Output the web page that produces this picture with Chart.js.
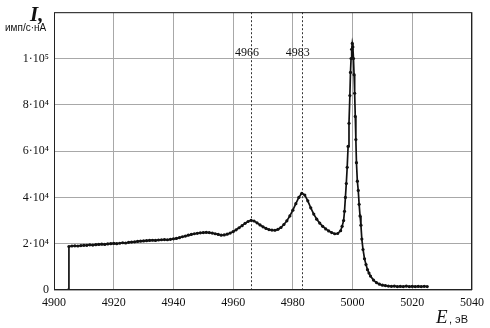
<!DOCTYPE html>
<html>
<head>
<meta charset="utf-8">
<script src="https://cdn.jsdelivr.net/npm/chart.js@4/dist/chart.umd.min.js"></script>
<style>
  html, body { margin: 0; padding: 0; background: #fff; }
  #wrap { width: 490px; height: 328px; position: relative; }
</style>
</head>
<body>
<div id="wrap"><canvas id="spectrum"></canvas></div>
<script>
// photon energy, eV
const energy = [
  4904.7, 4905, 4906, 4907, 4908, 4909, 4910, 4911, 4912, 4913, 4914, 4915, 4916, 4917, 4918, 4919,
  4920, 4921, 4922, 4923, 4924, 4925, 4926, 4927, 4928, 4929, 4930, 4931, 4932, 4933, 4934, 4935,
  4936, 4937, 4938, 4939, 4940, 4941, 4942, 4943, 4944, 4945, 4946, 4947, 4948, 4949, 4950, 4951,
  4952, 4953, 4954, 4955, 4956, 4957, 4958, 4959, 4960, 4961, 4962, 4963, 4964, 4965, 4966, 4967,
  4968, 4969, 4970, 4971, 4972, 4973, 4974, 4975, 4976, 4977, 4978, 4979, 4980, 4981, 4982, 4983,
  4984, 4985, 4986, 4987, 4988, 4989, 4990, 4991, 4992, 4993, 4994, 4995, 4996, 4996.5, 4997, 4997.3,
  4997.6, 4997.9, 4998.2, 4998.5, 4998.8, 4999.1, 4999.3, 4999.5, 4999.7, 4999.9, 5000.1, 5000.3,
  5000.5, 5000.7, 5000.9, 5001.1, 5001.3, 5001.6, 5001.9, 5002.2, 5002.5, 5002.8, 5003.1, 5003.5,
  5004, 5004.5, 5005, 5005.5, 5006, 5007, 5008, 5009, 5010, 5011, 5012, 5013, 5014, 5015, 5016,
  5017, 5018, 5019, 5020, 5021, 5022, 5023, 5024, 5025
];

// intensity, counts/s per nA
const intensity = [
  0, 18800, 19000, 19100, 19000, 19200, 19300, 19300, 19500, 19400, 19600, 19700, 19800, 19700, 19900, 20000,
  20100, 20000, 20200, 20400, 20300, 20600, 20700, 20800, 21000, 21100, 21200, 21300, 21400, 21500, 21400, 21600,
  21700, 21800, 21700, 21900, 22100, 22300, 22600, 23000, 23300, 23700, 24000, 24300, 24500, 24700, 24800, 24900,
  24800, 24600, 24300, 24000, 23700, 23800, 24100, 24600, 25200, 26000, 26900, 27800, 28800, 29600, 30100, 29800,
  29000, 28100, 27300, 26600, 26100, 25900, 25800, 26200, 27000, 28300, 29900, 32000, 34500, 37300, 40000, 41800,
  41000, 38500, 35500, 32800, 30600, 28900, 27500, 26400, 25500, 24800, 24300, 24400, 25600, 27500, 30000, 34000,
  40000, 46000, 53000, 62000, 72000, 84000, 94000, 100000, 104000, 106500, 105000, 100000,
  93000, 85000, 75000, 65000, 55000, 47000, 43000, 37000, 32000, 28000, 22000, 17500,
  13500, 11000, 8800, 7300, 6000, 4300, 3200, 2500, 2100, 1900, 1700, 1600, 1700, 1500, 1600,
  1500, 1700, 1500, 1600, 1500, 1600, 1500, 1600, 1500
];

// marked peak positions, eV
const markers = [4966, 4983];

const xTicks = [4900, 4920, 4940, 4960, 4980, 5000, 5020, 5040];
const yTicks = [0, 20000, 40000, 60000, 80000, 100000, 120000];

const SERIF = '"Liberation Serif", "DejaVu Serif", serif';
const SANS = '"Liberation Sans", Arial, sans-serif';
const SUP = { '4': '\u2074', '5': '\u2075' };

function sciLabel(v) {
  if (v === 0) return '0';
  if (v >= 120000) return '';
  const exp = Math.floor(Math.log10(v));
  const m = Math.round(v / Math.pow(10, exp));
  return `${m}\u00b710${SUP[String(exp)]}`;
}

const overlay = {
  id: 'overlay',
  beforeDatasetsDraw(chart) {
    const { ctx, chartArea, scales } = chart;
    ctx.save();
    ctx.strokeStyle = '#333';
    ctx.lineWidth = 1;
    ctx.setLineDash([2, 2]);
    markers.forEach((m) => {
      const x = Math.round(scales.x.getPixelForValue(m)) + 0.5;
      ctx.beginPath();
      ctx.moveTo(x, chartArea.top);
      ctx.lineTo(x, chartArea.bottom);
      ctx.stroke();
    });
    ctx.setLineDash([]);
    ctx.fillStyle = '#111';
    ctx.font = `12px ${SERIF}`;
    ctx.textAlign = 'center';
    ctx.textBaseline = 'middle';
    markers.forEach((m) => {
      const x = scales.x.getPixelForValue(m);
      ctx.fillText(String(m), x - 4, 53);
    });
    ctx.restore();
  },
  afterDraw(chart) {
    const { ctx, chartArea } = chart;
    ctx.save();
    ctx.strokeStyle = '#222';
    ctx.lineWidth = 1;
    ctx.strokeRect(chartArea.left + 0.5, chartArea.top + 0.5,
      chartArea.right - chartArea.left - 1, chartArea.bottom - chartArea.top - 1);

    ctx.fillStyle = '#111';
    ctx.textBaseline = 'alphabetic';
    ctx.textAlign = 'left';
    ctx.font = `italic bold 21px ${SERIF}`;
    ctx.fillText('I,', 30, 21);
    ctx.font = `10px ${SANS}`;
    ctx.fillText('имп/с·нА', 5, 31);

    ctx.font = `italic 19px ${SERIF}`;
    ctx.fillText('E', 436, 323);
    ctx.font = `11px ${SANS}`;
    ctx.fillText(', эВ', 449, 323);
    ctx.restore();
  }
};

const ctx = document.getElementById('spectrum').getContext('2d');

new Chart(ctx, {
  type: 'scatter',
  data: {
    datasets: [
      {
        data: energy.map((e, i) => ({ x: e, y: intensity[i] })),
        showLine: true,
        borderColor: '#111',
        backgroundColor: '#111',
        borderWidth: 1.7,
        pointRadius: 1.6,
        pointBorderWidth: 0,
        tension: 0
      }
    ]
  },
  options: {
    responsive: true,
    maintainAspectRatio: false,
    animation: false,
    layout: {
      padding: { left: 0, right: 17, top: 8, bottom: 0 }
    },
    plugins: {
      legend: { display: false },
      tooltip: { enabled: false }
    },
    scales: {
      x: {
        type: 'linear',
        min: 4900,
        max: 5040,
        afterBuildTicks(scale) {
          scale.ticks = xTicks.map((v) => ({ value: v }));
        },
        afterFit(scale) {
          scale.height = 38;
        },
        grid: { color: '#a8a8a8', lineWidth: 1, drawTicks: false },
        border: { display: false },
        ticks: {
          padding: 6,
          color: '#111',
          maxRotation: 0,
          font: { family: SERIF, size: 12 },
          callback(value) {
            return String(value);
          }
        }
      },
      y: {
        type: 'linear',
        min: 0,
        max: 120000,
        afterBuildTicks(scale) {
          scale.ticks = yTicks.map((v) => ({ value: v }));
        },
        afterFit(scale) {
          scale.width = 54;
        },
        grid: { color: '#a8a8a8', lineWidth: 1, drawTicks: false },
        border: { display: false },
        ticks: {
          padding: 5,
          color: '#111',
          font: { family: SERIF, size: 12 },
          callback(value) {
            return sciLabel(value);
          }
        }
      }
    }
  },
  plugins: [overlay]
});
</script>
</body>
</html>
